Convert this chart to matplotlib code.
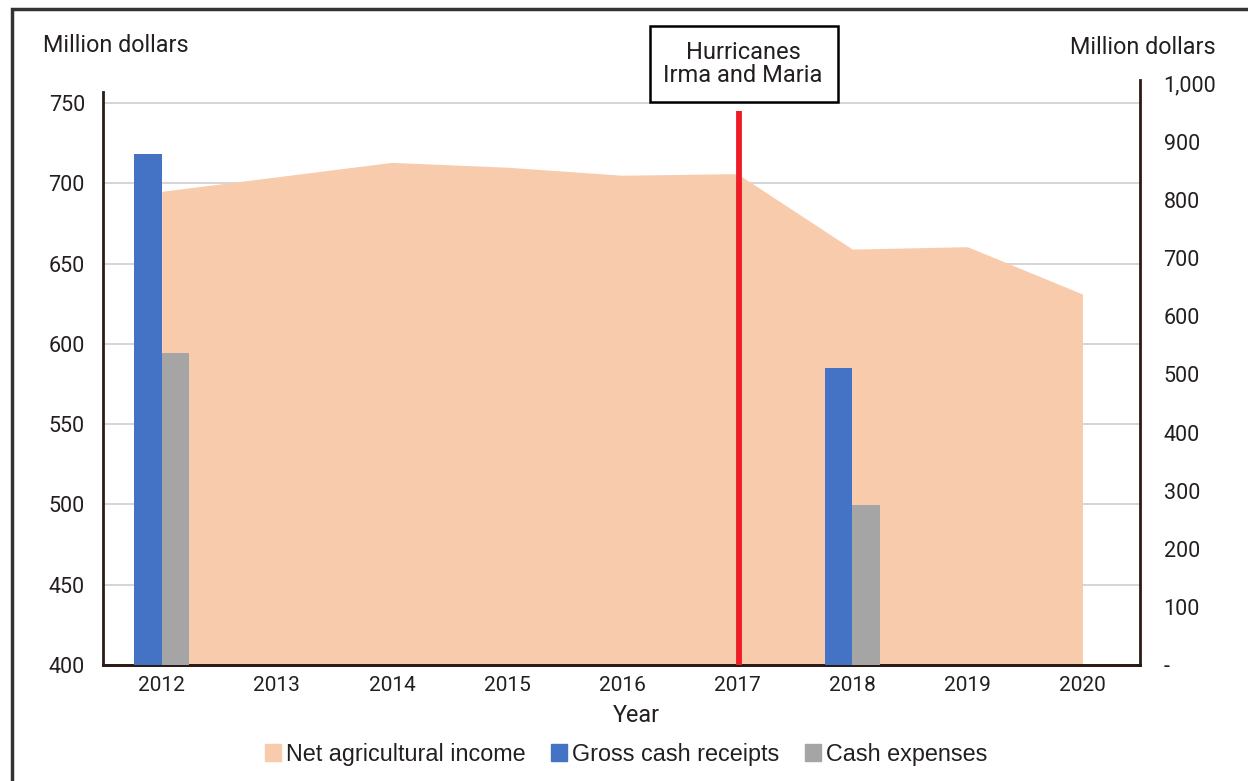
import matplotlib.pyplot as plt
from matplotlib.patches import Rectangle, Patch
from matplotlib.ticker import FuncFormatter

years = ['2012', '2013', '2014', '2015', '2016', '2017', '2018', '2019', '2020']
net_income = [695, 704, 713, 710, 705, 706, 659, 660.5, 631]

bar_years = ['2012', '2018']
gross_receipts = [879, 511]
cash_expenses = [536, 275]

hurricane_year = '2017'
hurricane_top = 745

AREA_COLOR = '#F8CBAD'
BLUE = '#4472C4'
GRAY = '#A5A5A5'
SPINE_COLOR = '#2B1B17'
TEXT_COLOR = '#231F20'

plt.rcParams['font.family'] = ['Roboto', 'DejaVu Sans']
plt.rcParams['text.color'] = TEXT_COLOR

fig = plt.figure(figsize=(12.48, 7.81), dpi=100)
ax = fig.add_axes([103 / 1248, 1 - 665 / 781, 1037 / 1248, 585 / 781])
ax2 = ax.twinx()

x = list(range(len(years)))
bar_x = [years.index(y) for y in bar_years]
width = 0.24

# net income area on left axis
ax.fill_between(x, 400, net_income, color=AREA_COLOR, lw=0, zorder=2)
ax.set_ylim(400, 764.3)
ax.set_yticks(range(400, 751, 50))
ax.grid(axis='y', color='#D0CECE', lw=1.2, zorder=0)
ax.set_axisbelow(True)
ax.set_xlim(-0.51, 8.5)
ax.set_xticks(x)
ax.set_xticklabels(years)

# bars on right axis
ax2.bar([b - width / 2 for b in bar_x], gross_receipts, width, color=BLUE, zorder=3)
ax2.bar([b + width / 2 for b in bar_x], cash_expenses, width, color=GRAY, zorder=3)
ax2.set_ylim(0, 1006.5)
ax2.set_yticks(range(0, 1001, 100))
ax2.yaxis.set_major_formatter(FuncFormatter(lambda v, p: '-' if v == 0 else f'{int(v):,}'))

# hurricane marker
ax2.vlines(years.index(hurricane_year) + 0.015, 0, (hurricane_top - 400) / 364.3 * 1006.5,
           color='#EE1C25', lw=4.2, zorder=5)

for a in (ax, ax2):
    a.spines['top'].set_visible(False)
    for s in ('left', 'right', 'bottom'):
        a.spines[s].set_color(SPINE_COLOR)
        a.spines[s].set_linewidth(2)
ax.spines['left'].set_bounds(400, 757)
ax2.spines['left'].set_visible(False)
ax.spines['right'].set_visible(False)

ax.tick_params(axis='y', length=0, pad=13, labelsize=15.5, labelcolor=TEXT_COLOR)
ax.tick_params(axis='x', length=0, pad=8, labelsize=15, labelcolor=TEXT_COLOR)
ax2.tick_params(axis='y', length=0, pad=17, labelsize=15.5, labelcolor=TEXT_COLOR)
ax2.yaxis.set_tick_params(labelright=True)

fig.text(43 / 1248, 1 - 46 / 781, 'Million dollars', fontsize=16.8, ha='left', va='center')
fig.text(1216 / 1248, 1 - 48 / 781, 'Million dollars', fontsize=16.8, ha='right', va='center')
fig.text(636 / 1248, 1 - 716 / 781, 'Year', fontsize=16.8, ha='center', va='center')

# annotation box
fig.patches.append(Rectangle((650 / 1248, 1 - 102 / 781), 188 / 1248, 76 / 781,
                             transform=fig.transFigure, fill=False, ec='black', lw=1.8))
fig.text(743 / 1248, 1 - 64 / 781, 'Hurricanes\nIrma and Maria', fontsize=17,
         ha='center', va='center', linespacing=1.05)

# outer frame
fig.patches.append(Rectangle((12 / 1248, -0.2), 1.2, 1.2 - 9 / 781,
                             transform=fig.transFigure, fill=False, ec='#333333', lw=2.5))

handles = [Patch(color=AREA_COLOR), Patch(color=BLUE), Patch(color=GRAY)]
labels = ['Net agricultural income', 'Gross cash receipts', 'Cash expenses']
fig.legend(handles, labels, loc='center', bbox_to_anchor=(626 / 1248, 1 - 754 / 781),
           ncol=3, frameon=False, handlelength=0.7, handleheight=0.7, handletextpad=0.2,
           columnspacing=1.1, prop={'family': ['Liberation Sans', 'DejaVu Sans'], 'size': 16.8})

fig.savefig('out.png', dpi=100)
